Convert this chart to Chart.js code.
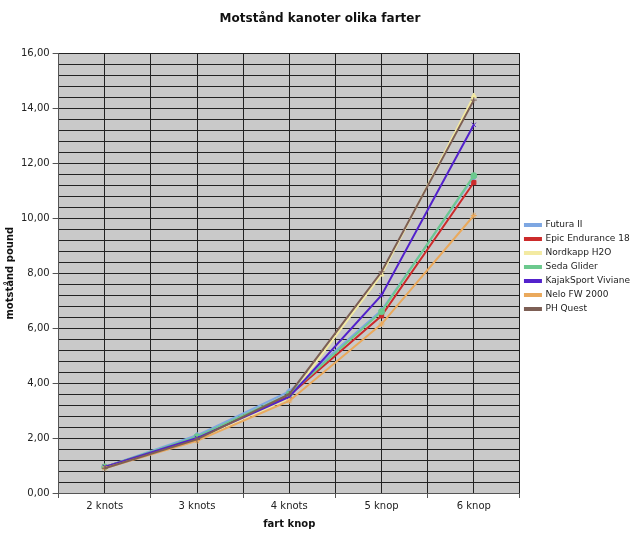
<!DOCTYPE html>
<html>
<head>
<meta charset="utf-8">
<script src="https://cdn.jsdelivr.net/npm/chart.js@4.4.1/dist/chart.umd.min.js"></script>
<style>
  html, body { margin: 0; padding: 0; background: #fff; }
  #wrap { width: 640px; height: 534px; position: relative; }
</style>
</head>
<body>
<div id="wrap"><canvas id="chart"></canvas></div>
<script>
// speeds on the x axis
const categories = ['2 knots', '3 knots', '4 knots', '5 knop', '6 knop'];

// resistance (pound) per boat
const futura = [0.95, 2.10, 3.70, 6.65, 11.50];
const epic = [0.95, 2.00, 3.55, 6.45, 11.30];
const nordkapp = [0.92, 1.95, 3.45, 7.95, 14.45];
const seda = [0.95, 2.05, 3.60, 6.60, 11.55];
const kajak = [0.95, 2.00, 3.50, 7.20, 13.40];
const nelo = [0.90, 1.90, 3.35, 6.15, 10.10];
const phQuest = [0.90, 1.95, 3.60, 8.05, 14.30];

const seriesNames = ['Futura II', 'Epic Endurance 18', 'Nordkapp H2O', 'Seda Glider', 'KajakSport Viviane', 'Nelo FW 2000', 'PH Quest'];
const seriesData = [futura, epic, nordkapp, seda, kajak, nelo, phQuest];
const seriesColors = ['#7ea7e2', '#cc2b2b', '#f3eaa2', '#6cc98e', '#5322cc', '#eaa95c', '#7d5f55'];
const seriesMarkers = ['rectRot', 'rect', 'triangle', 'circle', 'crossRot', 'star', 'cross'];

Chart.defaults.font.family = '"DejaVu Sans", Verdana, sans-serif';
Chart.defaults.font.size = 10;
Chart.defaults.color = '#222';

const plotBg = {
  id: 'plotBg',
  beforeDraw: chart => {
    const { ctx, chartArea: a } = chart;
    ctx.save();
    ctx.fillStyle = '#c9c9c9';
    ctx.fillRect(a.left, a.top, a.right - a.left, a.bottom - a.top);
    ctx.restore();
  }
};

const isMajor = v => Math.abs(v / 2 - Math.round(v / 2)) < 1e-6;

new Chart(document.getElementById('chart'), {
  type: 'line',
  data: {
    labels: categories,
    datasets: seriesNames.map((name, i) => ({
      label: name,
      data: seriesData[i],
      borderColor: seriesColors[i],
      backgroundColor: seriesColors[i],
      borderWidth: 2,
      pointStyle: seriesMarkers[i],
      pointRadius: 3,
      pointBorderWidth: 1,
      tension: 0,
      order: -i, // later series drawn on top, like the original
      xAxisID: 'x',
      yAxisID: 'y'
    }))
  },
  options: {
    responsive: true,
    maintainAspectRatio: false,
    animation: false,
    layout: { padding: { left: 0, right: 0, top: 4, bottom: 4 } },
    plugins: {
      title: {
        display: true,
        text: 'Motstånd kanoter olika farter',
        font: { size: 12, weight: 'bold' },
        color: '#111',
        padding: { top: 8, bottom: 27 }
      },
      legend: {
        position: 'right',
        align: 'center',
        labels: {
          boxWidth: 16,
          boxHeight: 2,
          padding: 5,
          font: { size: 9 },
          color: '#222',
          sort: (a, b) => a.datasetIndex - b.datasetIndex
        }
      },
      tooltip: { enabled: false }
    },
    scales: {
      x: {
        type: 'category',
        offset: true,
        grid: { offset: true, color: '#222', tickColor: '#555', tickLength: 5 },
        border: { color: '#555' },
        ticks: { padding: 2, color: '#222' },
        title: { display: true, text: 'fart knop', font: { weight: 'bold', size: 10 }, color: '#111', padding: { top: 4, bottom: 0 } }
      },
      xg: {
        type: 'category',
        position: 'top',
        offset: true,
        ticks: { display: false },
        grid: { offset: false, color: '#222', drawTicks: false },
        border: { display: false }
      },
      y: {
        min: 0,
        max: 16,
        ticks: {
          stepSize: 0.4,
          autoSkip: false,
          padding: 3,
          color: '#222',
          callback: v => isMajor(v) ? v.toFixed(2).replace('.', ',') : ''
        },
        grid: {
          color: '#222',
          tickLength: 6,
          tickColor: ctx => isMajor(ctx.tick.value) ? '#555' : 'rgba(0,0,0,0)'
        },
        border: { color: '#555' },
        title: { display: true, text: 'motstånd pound', font: { weight: 'bold', size: 10 }, color: '#111', padding: { bottom: 2 } }
      }
    }
  },
  plugins: [plotBg]
});
</script>
</body>
</html>
